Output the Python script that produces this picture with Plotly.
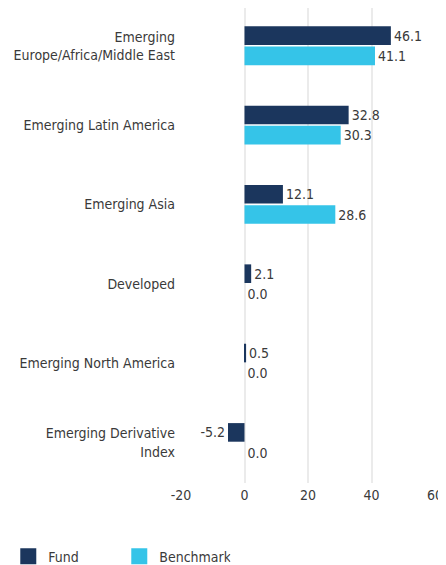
import plotly.graph_objects as go

categories = ["Emerging<br>Europe/Africa/Middle East", "Emerging Latin America", "Emerging Asia",
              "Developed", "Emerging North America", "Emerging Derivative<br>Index"]
fund = [46.1, 32.8, 12.1, 2.1, 0.5, -5.2]
benchmark = [41.1, 30.3, 28.6, 0.0, 0.0, 0.0]
x_ticks = [-20, 0, 20, 40, 60]
x_tick_labels = ["-20", "0", "20", "40", "60"]

FONT = "DejaVu Sans Condensed, Roboto, sans-serif"
TXT = "#3a3a3a"
SZ = 14
C_FUND = "#1b365d"
C_BENCH = "#35c4e8"

fig = go.Figure()
fig.add_trace(go.Bar(y=categories, x=fund, name="Fund", orientation="h",
                     marker=dict(color=C_FUND, line=dict(width=0)), showlegend=False,
                     text=[f"{v:.1f}" for v in fund], textposition="outside",
                     textfont=dict(size=SZ, color=TXT, family=FONT), cliponaxis=False))
fig.add_trace(go.Bar(y=categories, x=benchmark, name="Benchmark", orientation="h",
                     marker=dict(color=C_BENCH, line=dict(width=0)), showlegend=False,
                     text=[f"{v:.1f}" for v in benchmark], textposition="outside",
                     textfont=dict(size=SZ, color=TXT, family=FONT), cliponaxis=False))
# legend swatches
for name, col in [("Fund", C_FUND), ("Benchmark", C_BENCH)]:
    fig.add_trace(go.Scatter(x=[None], y=[None], mode="markers", name=name,
                             marker=dict(symbol="square", size=16, color=col, line=dict(width=0))))

fig.update_layout(
    width=446, height=565,
    margin=dict(l=168, r=19, t=0, b=80),
    paper_bgcolor="white", plot_bgcolor="white",
    barmode="group", bargap=0.49, bargroupgap=0.08,
    font=dict(family=FONT, size=SZ, color=TXT),
    xaxis=dict(range=[-20, 60], tickvals=x_ticks, ticktext=x_tick_labels, showgrid=True,
               gridcolor="#ebebeb", gridwidth=2, zeroline=False, showline=False, ticks="",
               automargin=False, ticklabelstandoff=2, tickfont=dict(size=SZ, color=TXT)),
    yaxis=dict(range=[5.51, -0.475], showgrid=False, zeroline=False, showline=False,
               ticks="", ticklabelstandoff=5, automargin=False,
               tickfont=dict(size=SZ, color=TXT)),
    legend=dict(orientation="h", xref="paper", yref="paper", x=-0.68, y=-0.1216,
                xanchor="left", yanchor="top", font=dict(size=SZ, color=TXT),
                traceorder="normal", entrywidth=66),
    showlegend=True,
)
fig.write_html("out.html")
